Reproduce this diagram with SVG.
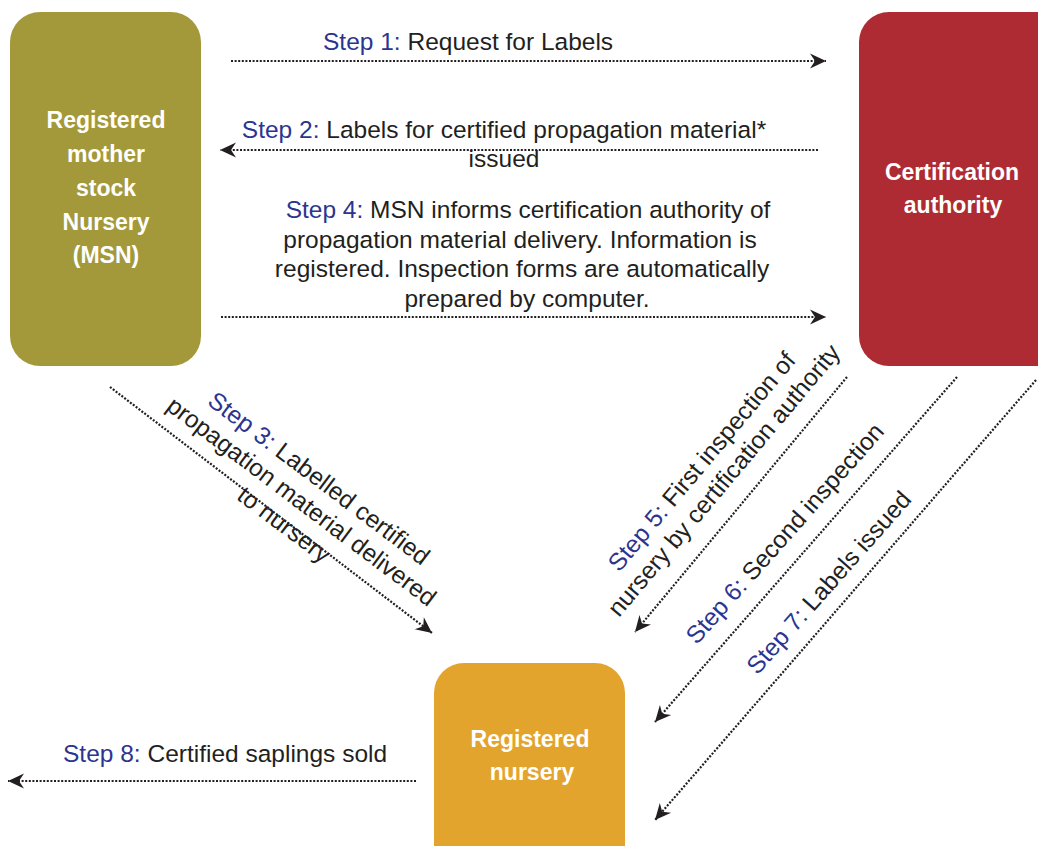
<svg xmlns="http://www.w3.org/2000/svg" width="1038" height="846" viewBox="0 0 1038 846">
<style>
.node-label{font-family:"Liberation Sans",Arial,sans-serif;font-weight:bold;font-size:23px;fill:#ffffff;text-anchor:middle}
.lbl{font-family:"Liberation Sans",Arial,sans-serif;font-size:24.5px;fill:#231f20}
.step{fill:#2b3590}
.conn{fill:none;stroke:#231f20;stroke-width:2.2;stroke-dasharray:2 1.6;marker-end:url(#head)}
</style>
<defs>
<marker id="head" markerUnits="userSpaceOnUse" viewBox="-17 -8 18 16" refX="0" refY="0" markerWidth="18" markerHeight="16" orient="auto">
<path d="M0,0 L-16,-7.5 L-11,0 L-16,7.5 Z" fill="#231f20"/>
</marker>
</defs>
<rect width="1038" height="846" fill="#ffffff"/>

<g id="msn">
<rect x="10" y="12" width="191" height="354" rx="30" fill="#a4993a"/>
<text class="node-label" x="106" y="128">Registered</text>
<text class="node-label" x="106" y="162">mother</text>
<text class="node-label" x="106" y="196">stock</text>
<text class="node-label" x="106" y="230">Nursery</text>
<text class="node-label" x="106" y="263">(MSN)</text>
</g>

<g id="cert">
<rect x="859" y="12" width="210" height="354" rx="30" fill="#ae2b33"/>
<text class="node-label" x="952" y="180">Certification</text>
<text class="node-label" x="953" y="213">authority</text>
</g>

<g id="nursery">
<rect x="434" y="663" width="191" height="220" rx="30" fill="#e3a42d"/>
<text class="node-label" x="530" y="747">Registered</text>
<text class="node-label" x="532" y="780">nursery</text>
</g>

<g id="connectors">
<line class="conn" x1="231" y1="61" x2="826" y2="61"/>
<line class="conn" x1="818" y1="150" x2="220" y2="150"/>
<line class="conn" x1="221" y1="317" x2="826" y2="317"/>
<line class="conn" x1="110" y1="387" x2="432" y2="633"/>
<line class="conn" x1="847" y1="377" x2="635" y2="632"/>
<line class="conn" x1="957" y1="377" x2="655" y2="722"/>
<line class="conn" x1="1036" y1="380" x2="655" y2="820"/>
<line class="conn" x1="416" y1="781" x2="8" y2="781"/>
</g>

<g id="labels">
<text class="lbl" x="323" y="50"><tspan class="step">Step 1:</tspan> Request for Labels</text>
<text class="lbl" x="504" y="138" text-anchor="middle"><tspan class="step">Step 2:</tspan> Labels for certified propagation material*</text>
<text class="lbl" x="504" y="167" text-anchor="middle">issued</text>
<text class="lbl" text-anchor="middle"><tspan x="528" y="218"><tspan class="step">Step 4:</tspan> MSN informs certification authority of</tspan><tspan x="520" y="248">propagation material delivery. Information is</tspan><tspan x="522" y="277">registered. Inspection forms are automatically</tspan><tspan x="527" y="307">prepared by computer.</tspan></text>
<g transform="translate(314,485) rotate(37)">
<text class="lbl" text-anchor="middle"><tspan x="0" y="0"><tspan class="step">Step 3:</tspan> Labelled certified</tspan><tspan x="0" y="29">propagation material delivered</tspan><tspan x="0" y="58">to nursery</tspan></text>
</g>
<g transform="translate(708,467) rotate(-50)">
<text class="lbl" text-anchor="middle"><tspan x="0" y="0"><tspan class="step">Step 5:</tspan> First inspection of</tspan><tspan x="0" y="29">nursery by certification authority</tspan></text>
</g>
<g transform="translate(791,539) rotate(-48.5)">
<text class="lbl" text-anchor="middle"><tspan class="step">Step 6:</tspan> Second inspection</text>
</g>
<g transform="translate(835,588) rotate(-48.5)">
<text class="lbl" text-anchor="middle"><tspan class="step">Step 7:</tspan> Labels issued</text>
</g>
<text class="lbl" x="63" y="762"><tspan class="step">Step 8:</tspan> Certified saplings sold</text>
</g>
</svg>
